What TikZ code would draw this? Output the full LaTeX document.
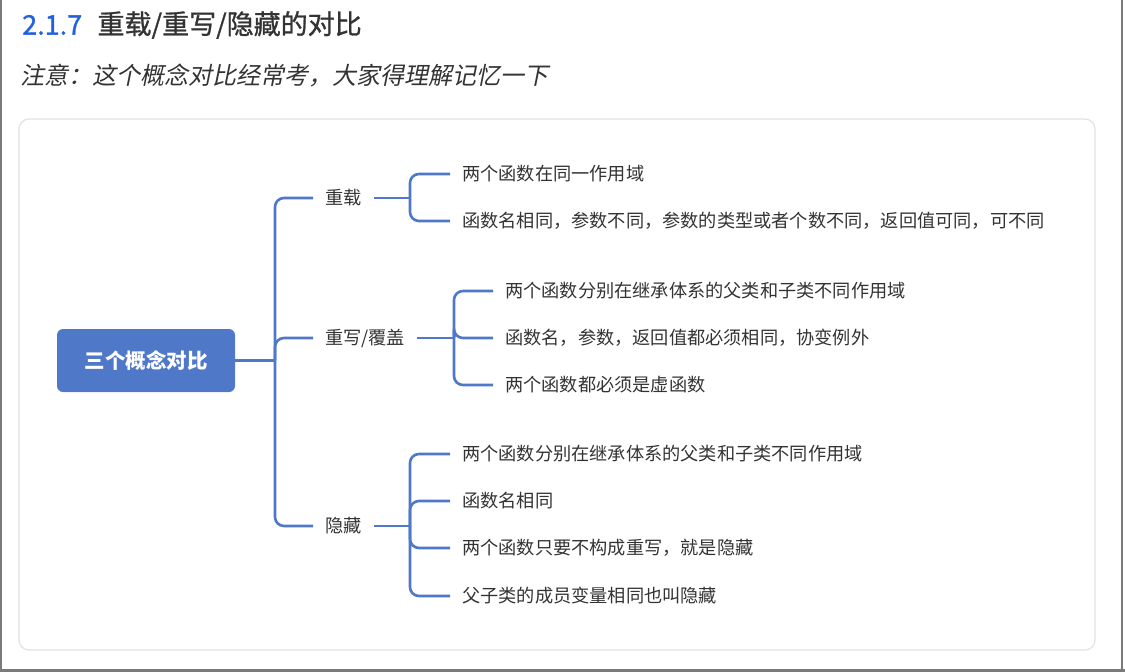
\documentclass[tikz,border=0pt]{standalone}
\usepackage{fontspec}
\setmainfont{Noto Sans CJK SC}
\newfontfamily\slantcjk{Noto Sans CJK SC}[FakeSlant=0.2]
\newfontfamily\headcjk{Noto Sans CJK SC}[FakeBold=1]
\usepackage{tikz}
\usetikzlibrary{positioning}
\definecolor{mapblue}{HTML}{5078C8}
\definecolor{headblue}{HTML}{2160E0}
\definecolor{txtc}{HTML}{333333}
\definecolor{framec}{HTML}{E2E2E2}
\definecolor{edgec}{HTML}{7A7A7A}
\tikzset{
  ln/.style={mapblue,line width=2.6pt,rounded corners=9pt},
  rootnd/.style={fill=mapblue,rounded corners=6pt,minimum width=178pt,minimum height=63pt,inner sep=0pt,text=white,font=\fontsize{20.5}{24}\selectfont\bfseries},
  brnd/.style={anchor=west,inner xsep=12pt,inner ysep=0pt,text=txtc,font=\fontsize{18.2}{21}\selectfont},
  lfnd/.style={anchor=west,inner xsep=12pt,inner ysep=0pt,text=txtc,font=\fontsize{18.2}{21}\selectfont}
}

\begin{document}
\begin{tikzpicture}[x=1pt,y=-1pt]
\useasboundingbox (0,0) rectangle (1125,672);
% page edges and card
\fill[edgec] (0,0) rectangle (2.3,672);
\fill[edgec] (1121,0) rectangle (1123,672);
\fill[edgec] (0,669.3) rectangle (1125,672);
\draw[framec,line width=1.2pt,rounded corners=10pt] (19,119) rectangle (1095,650);
% heading
\node[anchor=west,inner sep=0pt,text=headblue,font=\fontsize{27}{31}\headcjk] (tnum) at (22,25) {2.1.7};
\node[anchor=west,inner sep=0pt,text=txtc,font=\fontsize{27}{31}\headcjk,right=15pt of tnum] (ttxt) {重载/重写/隐藏的对比};
\node[anchor=west,inner sep=0pt,text=txtc,font=\fontsize{24}{28}\slantcjk] (note) at (20,75) {注意：这个概念对比经常考，大家得理解记忆一下};
% map
\node[rootnd] (root) at (146,360.5) {三个概念对比};
\coordinate (j0) at (275,360.5);
\node[brnd] (b1) at (313,198) {重载};
\node[brnd] (b2) at (313,338) {重写/覆盖};
\node[brnd] (b3) at (313,526) {隐藏};
\draw[ln] (root.east) -- (j0);
\foreach \b in {b1,b2,b3}{\draw[ln] (j0) |- (\b.west);}
\coordinate (j1) at (410,198);
\coordinate (j2) at (454,338);
\coordinate (j3) at (410,526);
\draw[ln] (b1.east) -- (j1);
\draw[ln] (b2.east) -- (j2);
\draw[ln] (b3.east) -- (j3);
\foreach \n/\y/\t in {l1a/174/两个函数在同一作用域,l1b/221/函数名相同，参数不同，参数的类型或者个数不同，返回值可同，可不同}{
  \node[lfnd] (\n) at (450,\y) {\t};
  \draw[ln] (j1) |- (\n.west);}
\foreach \n/\y/\t in {l2a/291/两个函数分别在继承体系的父类和子类不同作用域,l2b/338/函数名，参数，返回值都必须相同，协变例外,l2c/385/两个函数都必须是虚函数}{
  \node[lfnd] (\n) at (493,\y) {\t};
  \draw[ln] (j2) |- (\n.west);}
\foreach \n/\y/\t in {l3a/454/两个函数分别在继承体系的父类和子类不同作用域,l3b/501/函数名相同,l3c/548/两个函数只要不构成重写，就是隐藏,l3d/596/父子类的成员变量相同也叫隐藏}{
  \node[lfnd] (\n) at (450,\y) {\t};
  \draw[ln] (j3) |- (\n.west);}
\end{tikzpicture}
\end{document}
